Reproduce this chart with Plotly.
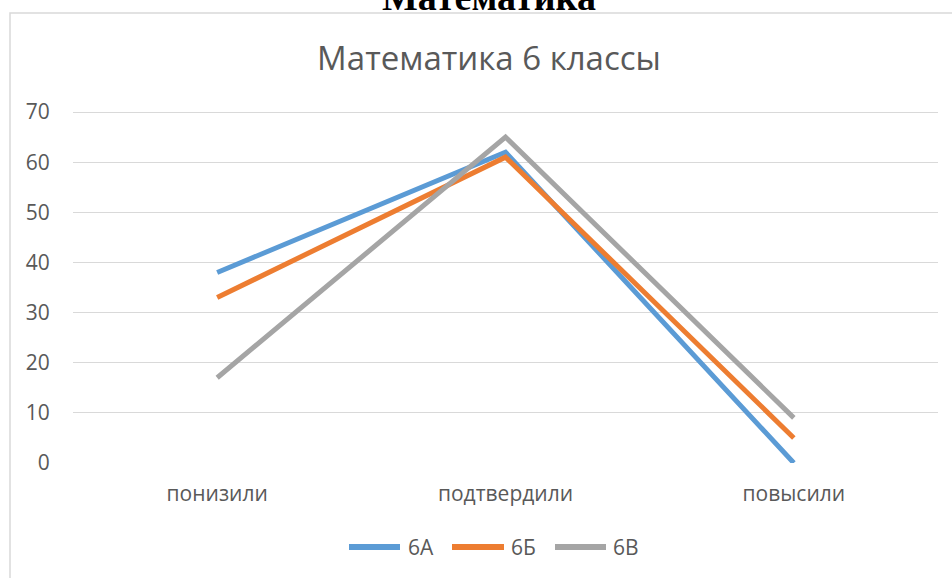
import plotly.graph_objects as go

categories = ["понизили", "подтвердили", "повысили"]
series_names = ["6А", "6Б", "6В"]
values_6a = [38, 62, 0]
values_6b = [33, 61, 5]
values_6v = [17, 65, 9]
colors = ["#5B9BD5", "#ED7D31", "#A5A5A5"]
y_ticks = [0, 10, 20, 30, 40, 50, 60, 70]

W, H = 952, 578
L, R, T, B = 73, 14, 110, 115
pw, ph = W - L - R, H - T - B

def px_x(p):
    return (p - L) / pw

def px_y(p):
    return (H - B - p) / ph

fig = go.Figure()
for name, vals, c in zip(series_names, [values_6a, values_6b, values_6v], colors):
    fig.add_trace(go.Scatter(x=categories, y=vals, name=name, mode="lines",
                             line=dict(color=c, width=5), showlegend=False))

font_fam = "Open Sans, Noto Sans, sans-serif"
fig.update_layout(
    width=W, height=H,
    margin=dict(l=L, r=R, t=T, b=B),
    paper_bgcolor="white", plot_bgcolor="white",
    font=dict(family=font_fam, color="#595959", size=21),
    title=dict(text="Математика 6 классы", x=489 / W, xanchor="center",
               y=1 - 58 / H, yanchor="middle",
               font=dict(family=font_fam, size=33, color="#595959")),
    showlegend=False,
    xaxis=dict(type="category", showgrid=False, showline=False, zeroline=False,
               ticks="outside", ticklen=12, tickcolor="rgba(0,0,0,0)",
               tickfont=dict(size=21, color="#595959"), range=[-0.5, 2.5]),
    yaxis=dict(range=[0, 70.4], tickvals=y_ticks, showgrid=True, gridcolor="#D9D9D9",
               gridwidth=1, zeroline=False, showline=False,
               ticks="outside", ticklen=18, tickcolor="rgba(0,0,0,0)",
               tickfont=dict(size=21, color="#595959")),
)

# custom legend (long line symbols like the reference)
legend_line_x = [(349, 400), (452, 504), (555, 606)]
legend_text_x = [406, 509, 611]
legend_y = 547
for name, c, (a, b), tx in zip(series_names, colors, legend_line_x, legend_text_x):
    fig.add_shape(type="line", xref="paper", yref="paper",
                  x0=px_x(a), x1=px_x(b), y0=px_y(legend_y), y1=px_y(legend_y),
                  line=dict(color=c, width=6))
    fig.add_annotation(text=name, xref="paper", yref="paper", x=px_x(tx), y=px_y(legend_y),
                       xanchor="left", yanchor="middle", showarrow=False,
                       font=dict(family=font_fam, size=21, color="#595959"))

# chart border
fig.add_shape(type="rect", xref="paper", yref="paper",
              x0=px_x(10), x1=px_x(970), y0=px_y(600), y1=px_y(13),
              line=dict(color="#D9D9D9", width=1.5), fillcolor="rgba(0,0,0,0)", layer="below")

# clipped heading at the top
fig.add_annotation(text="<b>Математика</b>", xref="paper", yref="paper",
                   x=px_x(489), y=px_y(-3), xanchor="center", yanchor="middle",
                   showarrow=False,
                   font=dict(family="Liberation Serif, Times New Roman, serif", size=38, color="black"))

fig.write_html("out.html", config={"displayModeBar": False},
               post_script="document.body.style.margin='0';document.body.style.overflow='hidden';")
